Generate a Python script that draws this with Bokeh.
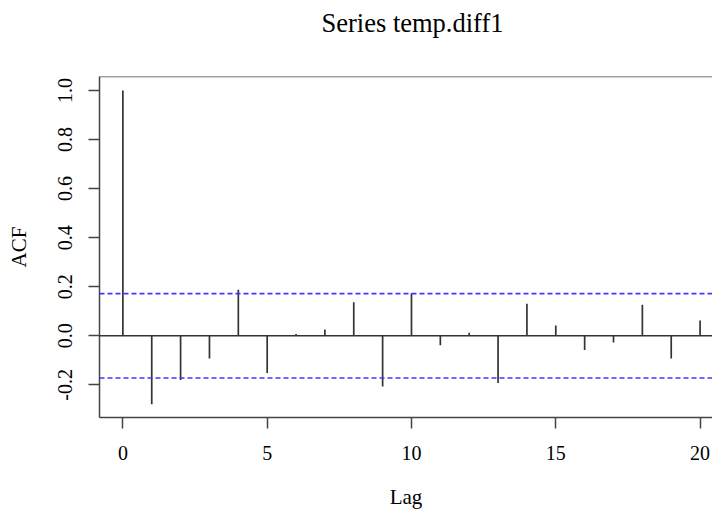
from bokeh.plotting import figure
from bokeh.models import Span, FixedTicker, Range1d, NumeralTickFormatter, Title
from bokeh.embed import file_html
from bokeh.resources import INLINE

# Data
lags = list(range(0, 21))
acf = [1.0, -0.279, -0.180, -0.092, 0.188, -0.152, 0.007, 0.026, 0.137, -0.207,
       0.173, -0.038, 0.012, -0.192, 0.131, 0.042, -0.058, -0.027, 0.127, -0.093, 0.062]
ci = 0.172
y_ticks = [-0.2, 0.0, 0.2, 0.4, 0.6, 0.8, 1.0]
x_ticks = [0, 5, 10, 15, 20]
title_text = "Series temp.diff1"

FONT = "Liberation Serif"
BOX = "#444444"
Y_START, Y_END = -0.333, 1.057

p = figure(width=712, height=511, output_backend="svg", toolbar_location=None,
           x_range=Range1d(-0.81, 20.43), y_range=Range1d(Y_START, Y_END),
           x_axis_label="Lag", y_axis_label="ACF",
           min_border_left=99, min_border_right=0, min_border_top=76, min_border_bottom=93)

p.title.visible = False
# spacer between the frame and the title
p.add_layout(Title(text=" ", text_font_size="1px", standoff=36), "above")
p.add_layout(Title(text=title_text, text_font=FONT, text_font_size="26.5px",
                   text_font_style="normal", text_color="black", align="left",
                   offset=222, standoff=0), "above")

p.outline_line_color = None
p.xgrid.visible = False
p.ygrid.visible = False
p.background_fill_color = "white"
p.border_fill_color = "white"

for ax in (p.xaxis[0], p.yaxis[0]):
    ax.axis_line_color = BOX
    ax.axis_line_width = 1.5
    ax.major_tick_line_color = BOX
    ax.major_tick_line_width = 1.5
    ax.major_tick_out = 11
    ax.major_tick_in = 0
    ax.minor_tick_line_color = None
    ax.major_label_text_font = FONT
    ax.major_label_text_font_size = "20px"
    ax.major_label_text_color = "black"
    ax.major_label_text_line_height = 1.0
    ax.axis_label_text_font = FONT
    ax.axis_label_text_font_size = "21px"
    ax.axis_label_text_font_style = "normal"
    ax.axis_label_text_color = "black"
    ax.axis_label_text_line_height = 1.0

p.xaxis.ticker = FixedTicker(ticks=x_ticks)
p.xaxis.major_label_standoff = 17
p.xaxis.axis_label_standoff = 22
p.yaxis.ticker = FixedTicker(ticks=y_ticks)
p.yaxis.formatter = NumeralTickFormatter(format="0.0")
p.yaxis.major_label_orientation = "vertical"
p.yaxis.major_label_standoff = 16
p.yaxis.axis_label_standoff = 25

# top edge of the plot box (the right edge lies outside the window)
p.add_layout(Span(location=Y_END, dimension="width", line_color=BOX, line_width=1.5))

p.add_layout(Span(location=0, dimension="width", line_color="#333333", line_width=1.5))
for c in (ci, -ci):
    p.add_layout(Span(location=c, dimension="width", line_color="#3838ff",
                      line_width=1.6, line_dash="5 3"))

p.segment(x0=lags, y0=[0] * len(lags), x1=lags, y1=acf, line_color="#333333", line_width=1.7)

open("out.html", "w").write(file_html(p, INLINE))
